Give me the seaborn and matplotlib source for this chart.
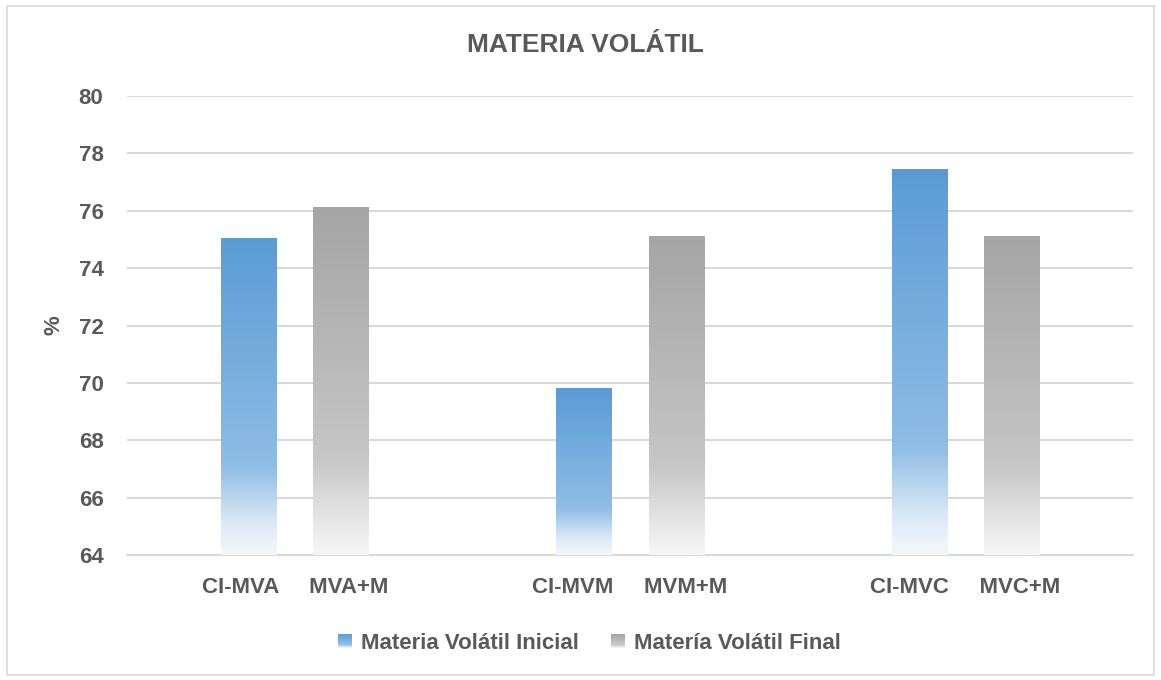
import matplotlib
matplotlib.use("Agg")
import matplotlib.pyplot as plt
import seaborn as sns
import numpy as np
import pandas as pd
from matplotlib.colors import LinearSegmentedColormap
from matplotlib.patches import Rectangle
from matplotlib.legend_handler import HandlerBase

# datos
categorias = ["CI-MVA     MVA+M", "CI-MVM     MVM+M", "CI-MVC     MVC+M"]
inicial = [75.05, 69.8, 77.45]
final = [76.1, 75.1, 75.1]
series = ["Materia Volátil Inicial", "Matería Volátil Final"]
yticks = [64, 66, 68, 70, 72, 74, 76, 78, 80]

df = pd.DataFrame({
    "categoria": categorias * 2,
    "serie": [series[0]] * 3 + [series[1]] * 3,
    "valor": inicial + final,
})

sns.set_theme(style="white")
plt.rcParams["font.family"] = ["Liberation Sans Narrow", "Liberation Sans", "DejaVu Sans"]
plt.rcParams["font.weight"] = "bold"
gris_txt = "#595959"

cmap_azul = LinearSegmentedColormap.from_list(
    "azul", [(0, "#5b9bd5"), (0.72, "#8fbde5"), (0.9, "#dbe9f6"), (1, "#f4f8fc")])
cmap_gris = LinearSegmentedColormap.from_list(
    "gris", [(0, "#a5a5a5"), (0.72, "#c6c6c6"), (0.9, "#e6e6e6"), (1, "#f7f7f7")])
cmaps = [cmap_azul, cmap_gris]

fig = plt.figure(figsize=(11.61, 6.80), dpi=100)
ax = fig.add_axes([0.1094, 0.1838, 0.8666, 0.675])

sns.barplot(data=df, x="categoria", y="valor", hue="serie", hue_order=series,
            palette=["#5b9bd5", "#a5a5a5"], width=0.55, gap=0.4, ax=ax,
            legend=False)

ymin, ymax = 64, 80
ax.set_ylim(ymin, ymax)
ax.set_xlim(-0.5, 2.5)

# relleno degradado en cada barra
grad = np.linspace(0, 1, 256).reshape(-1, 1)
for i, cont in enumerate(ax.containers):
    for bar in cont:
        x0 = bar.get_x()
        w = bar.get_width()
        top = bar.get_y() + bar.get_height()
        bar.set_facecolor("none")
        bar.set_edgecolor("none")
        ax.imshow(grad, cmap=cmaps[i], aspect="auto", origin="upper",
                  extent=[x0, x0 + w, ymin, top], zorder=3,
                  interpolation="bilinear")

ax.set_yticks(yticks)
ax.yaxis.grid(True, color="#d9d9d9", linewidth=1.5)
ax.set_axisbelow(True)
for s in ["top", "right", "left"]:
    ax.spines[s].set_visible(False)
ax.spines["bottom"].set_color("#d9d9d9")
ax.spines["bottom"].set_linewidth(1.5)
ax.tick_params(axis="y", length=0, pad=17, labelsize=16, labelcolor=gris_txt)
ax.tick_params(axis="x", length=0, pad=16, labelsize=16, labelcolor=gris_txt)
for lbl in ax.get_xticklabels() + ax.get_yticklabels():
    lbl.set_fontweight("bold")

ax.set_xlabel("")
ax.set_ylabel("%", fontsize=16, fontweight="bold", color=gris_txt)
ax.yaxis.set_label_coords(-0.062, 0.5)
fig.text(0.504, 0.934, "MATERIA VOLÁTIL", fontsize=19, fontweight="bold",
         color=gris_txt, ha="center", va="center")


class GradHandler(HandlerBase):
    def __init__(self, cmap):
        super().__init__()
        self.cmap = cmap

    def create_artists(self, legend, orig_handle, xdescent, ydescent, width,
                       height, fontsize, trans):
        n = 12
        size = height * 0.9
        x = xdescent + (width - size)
        y = -ydescent + (height - size) / 2
        arts = []
        for k in range(n):
            arts.append(Rectangle((x, y + size * k / n), size, size / n + 0.3,
                                  facecolor=self.cmap(1 - (k + 0.5) / n),
                                  edgecolor="none", transform=trans))
        return arts


h1 = Rectangle((0, 0), 1, 1)
h2 = Rectangle((0, 0), 1, 1)
leg = fig.legend([h1, h2], series, loc="center", bbox_to_anchor=(0.506, 0.054),
                 ncol=2, frameon=False, fontsize=16, handlelength=0.8,
                 handletextpad=0.4, columnspacing=1.3,
                 handler_map={h1: GradHandler(cmap_azul), h2: GradHandler(cmap_gris)})
for t in leg.get_texts():
    t.set_color(gris_txt)
    t.set_fontweight("bold")

fig.patches.append(Rectangle((0.006, 0.007), 0.988, 0.984, transform=fig.transFigure,
                             fill=False, edgecolor="#d9d9d9", linewidth=1.2))

fig.savefig("out.png", dpi=100)
plt.close(fig)
